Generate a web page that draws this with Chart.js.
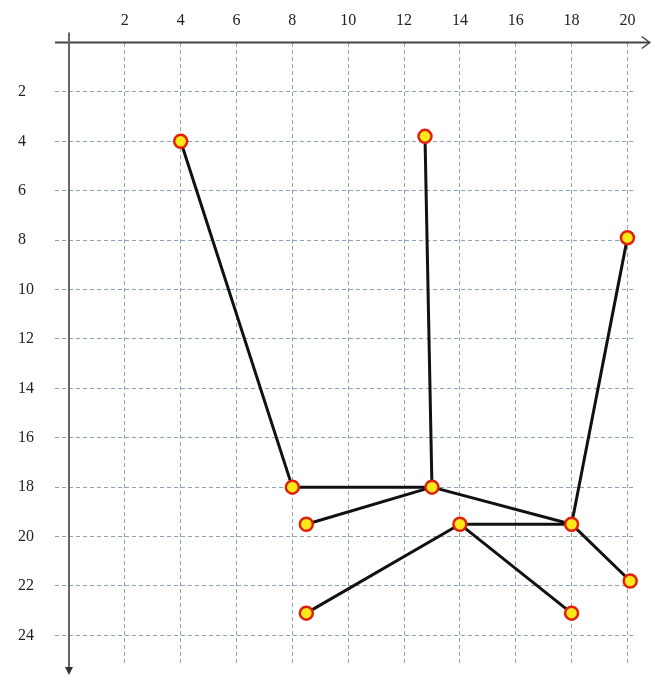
<!DOCTYPE html>
<html>
<head>
<meta charset="utf-8">
<script src="https://cdn.jsdelivr.net/npm/chart.js@4.4.1/dist/chart.umd.min.js"></script>
<style>
  body { margin: 0; background: #fff; }
</style>
</head>
<body>
<canvas id="grafico" width="655" height="680"></canvas>
<script>
// puntos (x hacia la derecha, y hacia abajo)
const pointX = [4, 12.75, 20, 8, 13, 8.5, 14, 18, 20.1, 8.5, 18];
const pointY = [4, 3.8, 7.9, 18, 18, 19.5, 19.5, 19.5, 21.8, 23.1, 23.1];

// segmentos entre puntos (indices)
const edgeFrom = [0, 3, 1, 4, 4, 2, 7, 7, 6, 6];
const edgeTo   = [3, 4, 4, 5, 7, 7, 6, 8, 9, 10];

const xTicks = [2, 4, 6, 8, 10, 12, 14, 16, 18, 20];
const yTicks = [2, 4, 6, 8, 10, 12, 14, 16, 18, 20, 22, 24];

const gridColor = "#8da2b8";
const fontLabel = { family: "'Liberation Serif', 'DejaVu Serif', serif", size: 16 };

const datasets = [];
for (let i = 0; i < edgeFrom.length; i++) {
  const a = edgeFrom[i];
  const b = edgeTo[i];
  datasets.push({
    data: [
      { x: pointX[a], y: pointY[a] },
      { x: pointX[b], y: pointY[b] },
    ],
    showLine: true,
    borderColor: "#111",
    borderWidth: 3,
    pointRadius: 0,
    clip: false,
    order: 2,
  });
}

const puntos = [];
for (let i = 0; i < pointX.length; i++) {
  puntos.push({ x: pointX[i], y: pointY[i] });
}
datasets.push({
  data: puntos,
  showLine: false,
  pointRadius: 6.5,
  pointBackgroundColor: "#ffe81a",
  pointBorderColor: "#e0200c",
  pointBorderWidth: 2.5,
  clip: false,
  order: 1,
});

// dibuja los ejes con flechas
const ejesPlugin = {
  id: "ejes",
  beforeDatasetsDraw(chart) {
    const ctx = chart.ctx;
    const xs = chart.scales.x;
    const ys = chart.scales.y;
    const x0 = xs.getPixelForValue(0);
    const y0 = ys.getPixelForValue(0);
    const xStart = xs.getPixelForValue(-0.5);
    const xEnd = xs.getPixelForValue(20.8);
    const yStart = ys.getPixelForValue(-0.4);
    const yEnd = ys.getPixelForValue(25.6);

    ctx.save();
    ctx.setLineDash([]);
    ctx.strokeStyle = "#444";
    ctx.lineWidth = 2;
    ctx.beginPath();
    ctx.moveTo(xStart, y0);
    ctx.lineTo(xEnd, y0);
    ctx.stroke();
    ctx.lineWidth = 1.5;
    ctx.beginPath();
    ctx.moveTo(xEnd - 8, y0 - 6);
    ctx.lineTo(xEnd, y0);
    ctx.lineTo(xEnd - 8, y0 + 6);
    ctx.stroke();

    ctx.strokeStyle = "#666";
    ctx.lineWidth = 2;
    ctx.beginPath();
    ctx.moveTo(x0, yStart);
    ctx.lineTo(x0, yEnd - 6);
    ctx.stroke();
    ctx.fillStyle = "#333";
    ctx.beginPath();
    ctx.moveTo(x0 - 4, yEnd - 8);
    ctx.lineTo(x0 + 4, yEnd - 8);
    ctx.lineTo(x0, yEnd);
    ctx.closePath();
    ctx.fill();
    ctx.restore();
  },
};

new Chart(document.getElementById("grafico"), {
  type: "scatter",
  data: { datasets: datasets },
  options: {
    responsive: false,
    animation: false,
    layout: { padding: { left: 18, right: 22, top: 0, bottom: 15 } },
    plugins: {
      legend: { display: false },
      tooltip: { enabled: false },
    },
    scales: {
      x: {
        type: "linear",
        position: "top",
        min: 0,
        max: 20.2,
        afterBuildTicks: (scale) => {
          scale.ticks = xTicks.map((v) => ({ value: v }));
        },
        afterFit: (scale) => {
          scale.height = 42.5;
        },
        ticks: {
          font: fontLabel,
          color: "#222",
          padding: 12,
          maxRotation: 0,
        },
        grid: {
          color: gridColor,
          lineWidth: 1,
          drawTicks: false,
        },
        border: { display: false, dash: [4, 3] },
      },
      y: {
        type: "linear",
        reverse: true,
        min: 0,
        max: 25.2,
        afterBuildTicks: (scale) => {
          scale.ticks = yTicks.map((v) => ({ value: v }));
        },
        afterFit: (scale) => {
          scale.width = 51;
        },
        ticks: {
          font: fontLabel,
          color: "#222",
          padding: 4,
          crossAlign: "far",
        },
        grid: {
          color: gridColor,
          lineWidth: 1,
          drawTicks: true,
          tickLength: 14,
          tickColor: gridColor,
          tickBorderDash: [4, 3],
        },
        border: { display: false, dash: [4, 3] },
      },
    },
  },
  plugins: [ejesPlugin],
});
</script>
</body>
</html>
